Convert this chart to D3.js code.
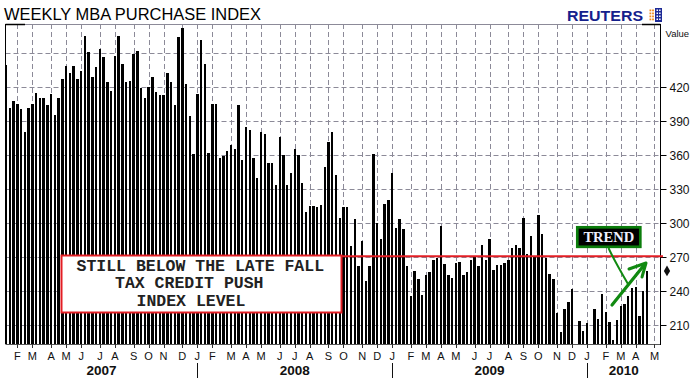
<!DOCTYPE html>
<html>
<head>
<meta charset="utf-8">
<style>
  body{margin:0;background:#fff;}
  svg{display:block;font-family:"Liberation Sans",Arial,sans-serif;}
  .grid line{stroke:#8c8a98;stroke-width:1;stroke-dasharray:5,3;}
</style>
<script src="https://d3js.org/d3.v7.min.js"></script>
</head>
<body>
<script>
const w = 691, h = 378;

// weekly MBA purchase index, first bar = week of Jan 12 2007 (null = off the scale)
const firstWeek = new Date(2007, 0, 12);
const purchaseIndex = [
  440,402,408,405,401,381,402,405,415,411,411,404,414,396,411,427,439,433,439,427,
  434,465,451,429,438,454,447,425,417,448,465,441,425,426,449,452,419,411,420,429,
  416,413,413,433,425,404,464,472,423,395,361,414,462,441,362,405,405,358,359,364,
  369,366,404,356,385,382,358,340,381,379,353,353,334,376,360,334,344,366,360,336,
  310,315,315,314,316,350,372,381,343,305,314,314,280,304,262,284,249,262,361,300,
  286,317,321,344,296,304,295,262,236,258,251,237,254,257,268,269,298,264,254,252,
  265,266,254,257,268,271,262,281,268,286,259,263,263,265,268,278,281,278,305,273,
  289,271,307,291,269,255,251,221,204,224,231,242,null,214,205,212,null,224,216,238,
  222,213,197,215,227,229,236,243,244,218,240,258
];
const yTicks = [210, 240, 270, 300, 330, 360, 390, 420];
const gridValues = [210, 240, 270, 300, 330, 360, 390, 420, 450];
const years = ["2007", "2008", "2009", "2010"];
const boxLines = ["STILL BELOW THE LATE FALL", "TAX CREDIT PUSH", "INDEX LEVEL"];
const trendLevel = 271;

const weeks = purchaseIndex.map((v, i) => d3.timeWeek.offset(firstWeek, i));

const pL = 5.5, pR = 660.5, pT = 24, pB = 344;

const svg = d3.select("body").append("svg")
  .attr("width", w).attr("height", h);

const x = d3.scaleTime()
  .domain([firstWeek, weeks[weeks.length - 1]])
  .range([6.2, 647]);
const y = d3.scaleLinear().domain([193.5, 475.9]).range([pB, pT]);

// month marks sit on the first bar of each month
const months = d3.timeMonth.range(new Date(2007, 1, 1), new Date(2010, 5, 1));
const monthX = months.map(m => x(d3.timeFriday.ceil(m)));

// grid
const grid = svg.append("g").attr("class", "grid");
grid.selectAll(".h").data(gridValues).enter().append("line")
  .attr("x1", pL).attr("x2", pR)
  .attr("y1", d => Math.round(y(d)) + 0.5).attr("y2", d => Math.round(y(d)) + 0.5);
grid.selectAll(".v").data(monthX).enter().append("line")
  .attr("x1", d => Math.round(d) + 0.5).attr("x2", d => Math.round(d) + 0.5)
  .attr("y1", pT).attr("y2", pB);

// bars
svg.append("g").selectAll("rect")
  .data(purchaseIndex.map((v, i) => ({v: v, d: weeks[i]})).filter(p => p.v != null))
  .enter().append("rect")
  .attr("x", p => x(p.d) - 1.2)
  .attr("width", 2.4)
  .attr("y", p => y(p.v))
  .attr("height", p => pB - y(p.v))
  .attr("fill", "#000")
  .attr("shape-rendering", "crispEdges");

// frame
svg.append("line").attr("x1", pL).attr("x2", pR).attr("y1", pT + 0.5).attr("y2", pT + 0.5)
  .attr("stroke", "#8c8a98");
svg.append("line").attr("x1", pL).attr("x2", 25).attr("y1", pT + 0.5).attr("y2", pT + 0.5)
  .attr("stroke", "#000").attr("stroke-width", 1.5);
svg.append("line").attr("x1", 642).attr("x2", pR).attr("y1", pT + 0.5).attr("y2", pT + 0.5)
  .attr("stroke", "#000").attr("stroke-width", 1.5);
svg.append("line").attr("x1", pL).attr("x2", pL).attr("y1", pT).attr("y2", pB)
  .attr("stroke", "#000");
svg.append("line").attr("x1", pL).attr("x2", pR).attr("y1", pB + 0.5).attr("y2", pB + 0.5)
  .attr("stroke", "#555");
svg.append("line").attr("x1", pR).attr("x2", pR).attr("y1", pT).attr("y2", pB + 1)
  .attr("stroke", "#000");

// right axis
const ya = svg.append("g");
ya.selectAll("line").data(yTicks).enter().append("line")
  .attr("x1", pR).attr("x2", pR + 6)
  .attr("y1", d => Math.round(y(d)) + 0.5).attr("y2", d => Math.round(y(d)) + 0.5)
  .attr("stroke", "#000");
ya.selectAll("text").data(yTicks).enter().append("text")
  .attr("x", 669.5).attr("y", d => y(d) + 4.3)
  .attr("font-size", 12).attr("fill", "#111")
  .text(d => d);
svg.append("text").attr("x", 665.5).attr("y", 37).attr("font-size", 9.5).attr("fill", "#111").text("Value");
svg.append("path")
  .attr("d", d3.symbol(d3.symbolDiamond, 34)())
  .attr("transform", `translate(667,${y(purchaseIndex[purchaseIndex.length - 1])})`)
  .attr("fill", "#111");

// bottom axis
const xa = svg.append("g");
xa.selectAll("line").data(monthX).enter().append("line")
  .attr("x1", d => Math.round(d) + 0.5).attr("x2", d => Math.round(d) + 0.5)
  .attr("y1", pB).attr("y2", pB + 4).attr("stroke", "#333");
xa.selectAll("text").data(months).enter().append("text")
  .attr("x", (m, i) => monthX[i]).attr("y", 359.5)
  .attr("text-anchor", "middle").attr("font-size", 11).attr("fill", "#111")
  .text(m => d3.timeFormat("%b")(m)[0]);

const yearStarts = d3.timeYear.range(new Date(2008, 0, 1), new Date(2010, 1, 1))
  .map(d => x(d3.timeFriday.ceil(d)));
svg.selectAll(".ysep").data(yearStarts).enter().append("line")
  .attr("x1", d => Math.round(d) + 0.5).attr("x2", d => Math.round(d) + 0.5)
  .attr("y1", 363).attr("y2", 378).attr("stroke", "#111");
const bounds = [pL].concat(yearStarts, [pR]);
svg.selectAll(".yl").data(years).enter().append("text")
  .attr("x", (d, i) => (bounds[i] + bounds[i + 1]) / 2).attr("y", 375)
  .attr("text-anchor", "middle").attr("font-size", 13.5).attr("font-weight", "bold")
  .attr("fill", "#111").text(d => d);

// title + logo
svg.append("text").attr("x", 4).attr("y", 20).attr("font-size", 16)
  .attr("textLength", 257).attr("lengthAdjust", "spacingAndGlyphs")
  .attr("fill", "#000").text("WEEKLY MBA PURCHASE INDEX");
svg.append("text").attr("x", 567).attr("y", 20.5).attr("font-size", 14.5)
  .attr("font-weight", "bold").attr("fill", "#14208c")
  .attr("textLength", 76).attr("lengthAdjust", "spacingAndGlyphs").text("REUTERS");
const logo = svg.append("g");
logo.append("rect").attr("x", 655).attr("y", 8).attr("width", 7).attr("height", 14).attr("fill", "#1d2a96");
for (let r = 0; r < 4; r++) {
  for (let c = 0; c < 2; c++) {
    logo.append("rect").attr("x", 649.5 + c * 2.6).attr("y", 9.5 + r * 3)
      .attr("width", 1.8).attr("height", 1.8).attr("fill", "#f08a1c");
    logo.append("rect").attr("x", 656.5 + c * 2.6).attr("y", 9.5 + r * 3)
      .attr("width", 1.5).attr("height", 1.5).attr("fill", "#fff");
  }
}

// annotation: red level line + box
svg.append("line").attr("x1", 341).attr("x2", 663)
  .attr("y1", y(trendLevel)).attr("y2", y(trendLevel))
  .attr("stroke", "#e31e24").attr("stroke-width", 2);
svg.append("rect").attr("x", 61.5).attr("y", 255.5).attr("width", 280).attr("height", 57)
  .attr("fill", "#fff").attr("stroke", "#e31e24").attr("stroke-width", 2);
const lineX = [76.5, 115, 136.5], lineY = [270.5, 288.3, 306];
svg.selectAll(".bt").data(boxLines).enter().append("text")
  .attr("x", (d, i) => lineX[i]).attr("y", (d, i) => lineY[i])
  .attr("font-family", "'Liberation Mono','Courier New',monospace")
  .attr("font-weight", "bold").attr("font-size", 16.5).attr("fill", "#222")
  .attr("xml:space", "preserve").text(d => d);

// TREND tag and arrow
const green = "#118a11";
svg.append("path").attr("d", "M608.5,248 Q614,260 628,284")
  .attr("fill", "none").attr("stroke", green).attr("stroke-width", 2);
svg.append("rect").attr("x", 577.3).attr("y", 227.3).attr("width", 63).attr("height", 19.5)
  .attr("fill", "#000").attr("stroke", "#0b7d0b").attr("stroke-width", 2.7);
svg.append("text").attr("x", 608.8).attr("y", 241.5).attr("text-anchor", "middle")
  .attr("font-family", "'Liberation Serif','Times New Roman',serif")
  .attr("font-weight", "bold").attr("font-size", 14.5).attr("fill", "#eef0ff").text("TREND");
svg.append("path").attr("d", "M612,305 L645,264")
  .attr("fill", "none").attr("stroke", green).attr("stroke-width", 3.2).attr("stroke-linecap", "round");
svg.append("path").attr("d", "M629,269 L646,263 L642,277")
  .attr("fill", "none").attr("stroke", green).attr("stroke-width", 3)
  .attr("stroke-linecap", "round").attr("stroke-linejoin", "round");
</script>
</body>
</html>
